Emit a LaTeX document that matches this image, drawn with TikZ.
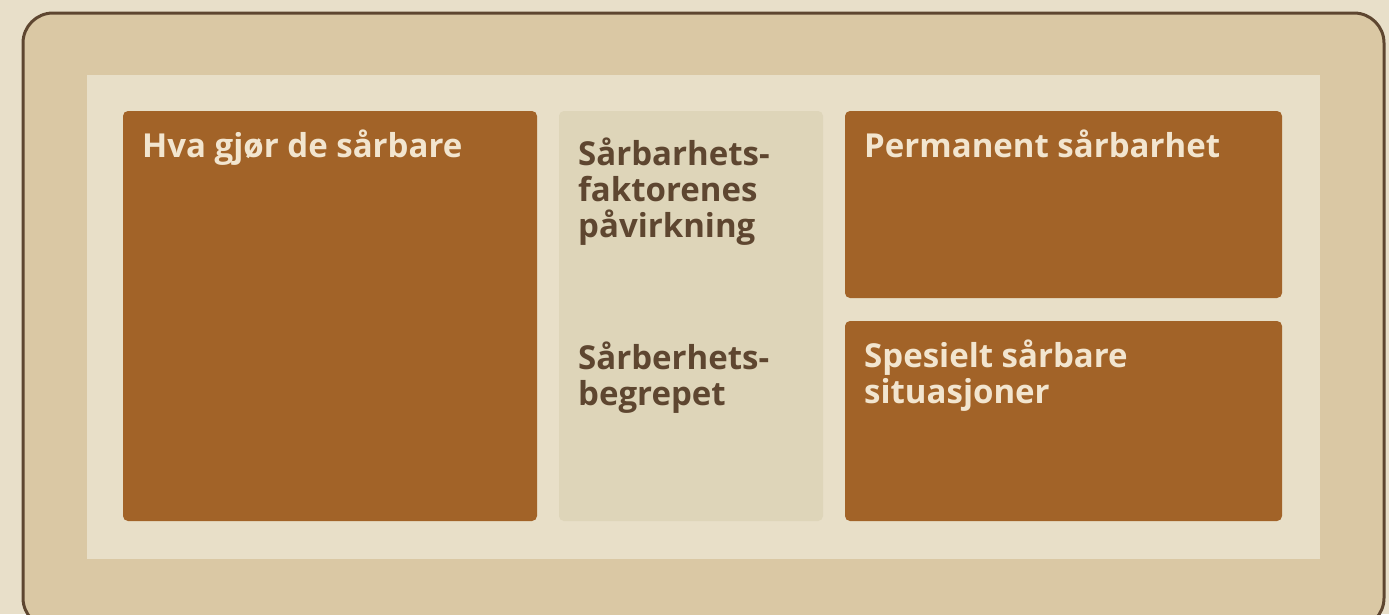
\documentclass[tikz,border=0pt]{standalone}
\usepackage{fontspec}
\setmainfont{Open Sans}
\definecolor{bgc}{HTML}{E8DFC9}
\definecolor{framefill}{HTML}{DAC8A4}
\definecolor{frameline}{HTML}{5E4630}
\definecolor{panel}{HTML}{E8DFC8}
\definecolor{brownbox}{HTML}{A26328}
\definecolor{midbox}{HTML}{DED5B9}
\definecolor{lighttext}{HTML}{F2E5CF}
\definecolor{darktext}{HTML}{5E4630}
\tikzset{
  cardbox/.style={fill=brownbox, rounded corners=5pt},
  midcard/.style={fill=midbox, rounded corners=5pt},
  cardtext/.style={anchor=base west, inner sep=0pt, align=left, text=lighttext,
    font=\fontsize{33}{36}\selectfont\bfseries},
  midtext/.style={cardtext, text=darktext},
}
\begin{document}
\begin{tikzpicture}[x=1pt,y=-1pt]
\useasboundingbox (0,0) rectangle (1389,614);
\fill[bgc] (0,0) rectangle (1389,614);
\begin{scope}
\clip (0,0) rectangle (1389,614);
\draw[fill=framefill, draw=frameline, line width=3pt, rounded corners=30pt] (23,13) rectangle (1384,628);
\end{scope}
\fill[panel] (87,75) rectangle (1320,559);
\path[cardbox] (123,111) rectangle (537,521);
\path[midcard] (559,111) rectangle (823,521);
\path[cardbox] (845,111) rectangle (1282,298);
\path[cardbox] (845,321) rectangle (1282,521);
\node[cardtext] (t1) at (142,157.5) {Hva gjør de sårbare};
\node[midtext] (t2) at (578,237.5) {Sårbarhets-\\faktorenes\\påvirkning};
\node[midtext] (t3) at (578,405) {Sårberhets-\\begrepet};
\node[cardtext] (t4) at (864,157.5) {Permanent sårbarhet};
\node[cardtext] (t5) at (864,403) {Spesielt sårbare\\situasjoner};
\end{tikzpicture}
\end{document}
